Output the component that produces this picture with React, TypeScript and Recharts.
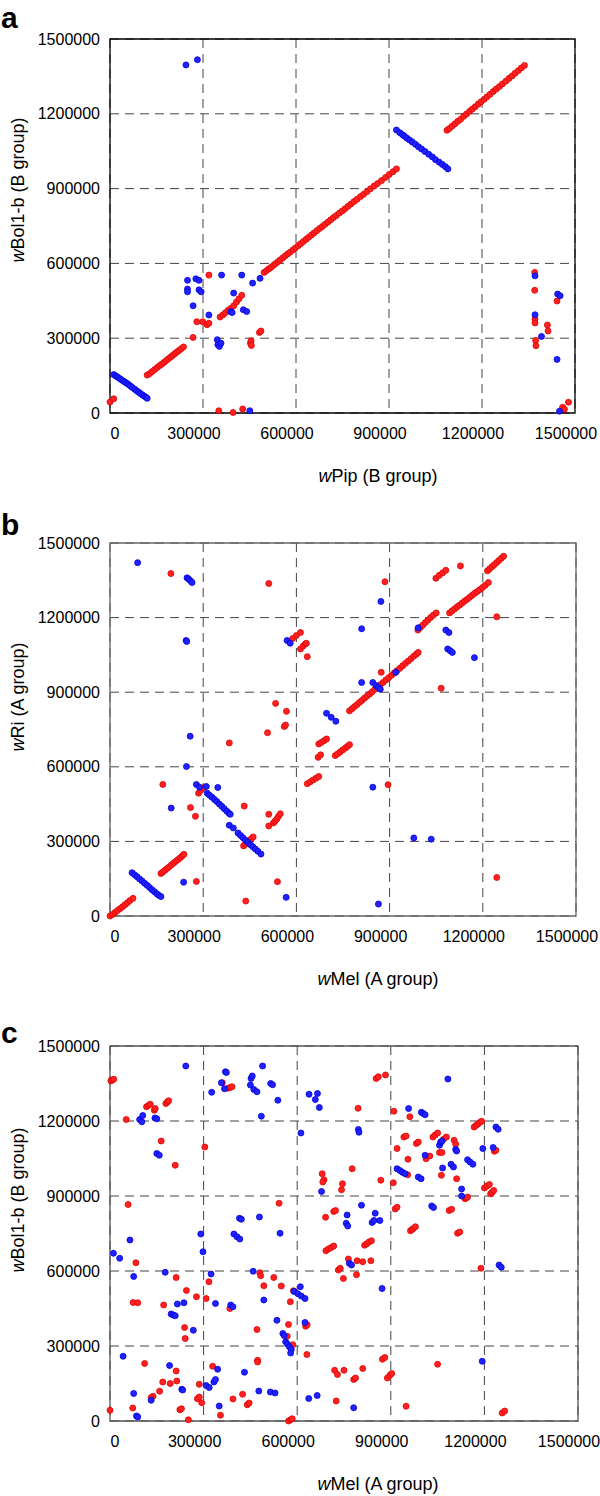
import React from "react";
import { ScatterChart, Scatter, XAxis, YAxis, CartesianGrid, ReferenceArea } from "recharts";

// genome positions in kb
const axisTicks = [0, 300000, 600000, 900000, 1200000, 1500000];

const aRed: [number, number][] = [
  [0, 44], [12, 57],
  [120, 152], [128, 158], [136, 166], [144, 174], [152, 182], [160, 190], [167, 196], [174, 203], [181, 210], [188, 217],
  [195, 224], [202, 231], [209, 238], [216, 245], [223, 251], [230, 258], [237, 265],
  [268, 303], [280, 366], [299, 366], [313, 354], [319, 360], [319, 553],
  [355, 385], [364, 393], [372, 402], [381, 412], [390, 420], [399, 430], [408, 445], [416, 458], [425, 472],
  [351, 9], [397, 2], [428, 16],
  [453, 280], [455, 290], [456, 271], [482, 323], [487, 329],
  [497, 564], [505, 571], [512, 578], [519, 584], [527, 592], [534, 599], [542, 607], [549, 614], [557, 622], [565, 630],
  [573, 638], [581, 645], [590, 654], [598, 662], [607, 671], [615, 679], [624, 688], [633, 697], [641, 705], [650, 714],
  [658, 722], [667, 731], [676, 740], [685, 748], [694, 757], [703, 766], [712, 775], [721, 784], [730, 792], [740, 802],
  [749, 810], [758, 819], [768, 829], [777, 838], [787, 848], [797, 857], [808, 868], [818, 877], [829, 888], [840, 899],
  [852, 910], [863, 920], [876, 932], [889, 945], [901, 957], [913, 968], [924, 979],
  [1087, 1134], [1095, 1141], [1104, 1151], [1113, 1160], [1122, 1170], [1131, 1178], [1141, 1190], [1150, 1199],
  [1160, 1210], [1169, 1219], [1178, 1228], [1188, 1239], [1197, 1248], [1207, 1258], [1216, 1268], [1226, 1278],
  [1236, 1289], [1246, 1299], [1256, 1309], [1266, 1320], [1277, 1331], [1287, 1342], [1297, 1352], [1307, 1363],
  [1317, 1373], [1327, 1384], [1337, 1394],
  [1370, 564], [1370, 492], [1371, 377], [1371, 361], [1373, 291], [1374, 270], [1411, 353], [1413, 329],
  [1442, 449], [1460, 23], [1466, 15], [1479, 43],
];

const aBlue: [number, number][] = [
  [245, 1396], [282, 1417],
  [12, 154], [18, 149], [24, 144], [30, 139], [36, 134], [42, 129], [48, 124], [54, 119], [60, 114], [66, 108],
  [72, 102], [80, 95], [86, 89], [92, 84], [98, 78], [104, 73], [110, 68], [116, 63], [120, 59],
  [924, 1135], [935, 1124], [944, 1116], [950, 1110], [958, 1102], [966, 1095], [975, 1087], [985, 1078], [995, 1068],
  [1005, 1059], [1016, 1049], [1028, 1038], [1040, 1027], [1050, 1016], [1062, 1006], [1072, 997], [1082, 988], [1090, 979],
  [250, 532], [250, 497], [250, 486], [268, 430], [277, 538], [287, 532], [287, 494], [294, 486], [319, 393],
  [346, 294], [348, 274], [353, 267], [358, 280], [360, 553], [399, 481], [390, 406], [394, 403], [425, 553],
  [430, 414], [441, 407], [460, 521], [484, 540], [451, 9],
  [1371, 550], [1371, 394], [1392, 307], [1444, 477], [1452, 470], [1442, 215], [1450, 7],
];

const bRed: [number, number][] = [
  [0, 0], [8, 6], [16, 14], [24, 22], [32, 29], [40, 37], [48, 45], [56, 53], [64, 62], [74, 71],
  [164, 171], [170, 177], [177, 184], [184, 191], [191, 198], [198, 206], [205, 213], [212, 220], [219, 227],
  [226, 234], [232, 241], [238, 248],
  [278, 139], [170, 529], [259, 436], [275, 401], [285, 494], [292, 505], [300, 516],
  [430, 282], [436, 289], [442, 296], [449, 304], [455, 311], [461, 318],
  [432, 442], [511, 409], [511, 362], [526, 374], [531, 381], [537, 390], [542, 400], [548, 411],
  [539, 138], [437, 60], [384, 696], [507, 737], [533, 855], [561, 762], [565, 768], [568, 823],
  [635, 532], [645, 540], [654, 547], [663, 554], [672, 561], [670, 638], [678, 648],
  [672, 692], [680, 698], [689, 705], [697, 712],
  [725, 645], [733, 652], [741, 660], [749, 668], [757, 675], [764, 682], [771, 689],
  [771, 825], [779, 833], [787, 842], [795, 850], [803, 859], [811, 867], [819, 876], [827, 884], [836, 893],
  [844, 902], [853, 912], [861, 921], [870, 930], [879, 939], [888, 949], [897, 958], [906, 968], [915, 977],
  [924, 987], [933, 996], [942, 1006], [951, 1016], [960, 1025], [969, 1035], [978, 1045], [986, 1053], [992, 1060],
  [873, 980], [895, 528], [885, 1344], [511, 1337], [196, 1377], [1066, 916],
  [588, 1116], [600, 1128], [613, 1140], [613, 1074], [622, 1086], [629, 1094], [632, 1097], [635, 1043],
  [991, 1150], [999, 1160], [1007, 1170], [1015, 1180], [1023, 1190], [1032, 1200], [1041, 1210], [1050, 1219],
  [1049, 1358], [1060, 1370], [1071, 1380], [1081, 1390], [1128, 1408],
  [1093, 1219], [1101, 1227], [1109, 1235], [1117, 1243], [1125, 1250], [1133, 1258], [1141, 1266], [1149, 1273],
  [1157, 1281], [1165, 1289], [1173, 1297], [1181, 1304], [1190, 1312], [1199, 1321], [1208, 1330], [1218, 1341],
  [1215, 1388], [1222, 1396], [1230, 1405], [1237, 1413], [1245, 1422], [1252, 1430], [1260, 1439], [1267, 1447],
  [1245, 1203], [1245, 155],
];

const bBlue: [number, number][] = [
  [89, 1421], [248, 1360], [253, 1355], [259, 1348], [264, 1341],
  [872, 1265], [810, 1155], [992, 1159], [245, 1108], [247, 1104], [570, 1108], [580, 1097],
  [1081, 1150], [1091, 1140], [1087, 1074], [1095, 1067], [1102, 1060], [1173, 1039],
  [920, 980], [810, 939], [846, 939], [856, 927], [863, 919], [870, 912],
  [697, 815], [712, 799], [727, 783],
  [846, 518], [978, 314], [1034, 309], [864, 48], [567, 75],
  [71, 174], [79, 166], [87, 158], [95, 149], [103, 141], [111, 132], [119, 124], [127, 115], [135, 106],
  [143, 98], [151, 89], [157, 83], [164, 78],
  [237, 136], [197, 434], [258, 723], [246, 601], [278, 529], [288, 518], [310, 521], [347, 517],
  [313, 494], [320, 486], [328, 478], [336, 469], [344, 460], [352, 450], [360, 441], [368, 431], [376, 421],
  [383, 413], [387, 409], [384, 365], [397, 354],
  [412, 334], [420, 324], [428, 315], [436, 305], [444, 296], [452, 287], [460, 278], [468, 269], [476, 260], [486, 249],
];

const cRed: [number, number][] = [
  [3, 1361], [7, 1364], [12, 1367], [52, 1206], [117, 1257], [123, 1262], [129, 1267], [142, 1243], [145, 1250],
  [179, 1270], [184, 1276], [188, 1281], [164, 1120], [209, 1023], [304, 1096], [360, 1353], [378, 1331], [385, 1334],
  [391, 1337], [795, 1251], [853, 1370], [860, 1377], [883, 1384], [910, 1239], [961, 1217],
  [1167, 1176], [1173, 1182], [1179, 1188], [1185, 1194], [1191, 1199], [920, 1090], [942, 1136], [949, 1140],
  [955, 1047], [982, 1110], [988, 1116], [1035, 1136], [1042, 1144], [1050, 1152], [1060, 1114], [1069, 1127],
  [1078, 1136], [1103, 1123], [1108, 1107], [1013, 1049], [1025, 1060], [1056, 1074], [1064, 1074], [954, 985],
  [1062, 983], [1111, 969], [1232, 1079], [1237, 1083], [1138, 889], [1142, 892], [1146, 896], [1200, 932],
  [1208, 940], [1216, 946], [1220, 909], [1225, 915], [1230, 922], [680, 989], [686, 965], [682, 956], [745, 949],
  [742, 925], [776, 1009], [868, 963], [908, 953],
  [58, 866], [83, 633], [74, 474], [89, 473], [212, 574], [172, 464], [245, 522], [277, 497], [308, 490], [317, 557],
  [239, 374], [241, 330], [111, 230], [212, 200], [169, 156], [193, 150], [214, 160], [159, 119], [138, 99], [329, 219],
  [286, 147], [280, 89], [286, 96], [384, 450], [480, 593], [483, 581], [493, 541], [542, 871], [525, 574], [549, 540],
  [588, 521], [578, 477], [572, 386], [568, 339], [586, 305], [627, 379], [632, 385], [631, 266], [471, 366],
  [425, 107], [394, 88], [473, 243], [473, 236],
  [691, 815], [717, 838], [723, 842], [692, 681], [700, 688], [709, 694], [717, 700], [732, 604], [738, 611],
  [764, 648], [792, 641], [810, 637], [836, 641], [748, 570], [790, 585], [816, 703], [823, 709], [830, 716],
  [838, 721], [725, 80], [720, 203], [729, 186], [750, 203], [781, 166], [787, 172], [810, 210], [873, 247],
  [881, 254], [889, 172], [897, 183], [903, 190], [914, 848], [920, 855], [963, 761], [968, 766], [972, 770],
  [979, 777], [1050, 227], [1087, 842], [1095, 847], [1114, 751], [1121, 756], [1189, 611],
  [0, 43], [73, 52], [132, 94], [224, 45], [229, 49], [251, 5], [294, 73], [354, 23], [440, 65], [446, 72],
  [572, 0], [579, 5], [584, 9], [949, 59], [1257, 32], [1265, 40],
];

const cBlue: [number, number][] = [
  [243, 1420], [95, 1206], [102, 1197], [105, 1222], [144, 1212], [150, 1209], [150, 1070], [158, 1063], [326, 1315],
  [370, 1397], [373, 1394], [357, 1353], [367, 1329], [452, 1370], [456, 1380], [489, 1420], [450, 1344], [461, 1326],
  [471, 1317], [515, 1350], [521, 1345], [538, 1283], [485, 1219], [638, 1307], [658, 1286], [665, 1310], [671, 1254],
  [612, 1152], [796, 1166], [798, 1155], [957, 1250], [998, 1235], [1004, 1230], [1010, 1225], [1083, 1368],
  [1237, 1176], [1244, 1167], [1056, 1103], [1060, 1116], [1064, 1120], [1108, 1086], [1111, 1080], [1010, 1063],
  [1066, 1012], [1093, 1027], [1101, 1016], [920, 1009], [929, 1002], [937, 995], [946, 989], [988, 976], [997, 969],
  [1146, 1045], [1154, 1036], [1163, 1027], [1195, 1090], [1228, 1094], [1127, 928], [1127, 900], [678, 918],
  [11, 671], [31, 651], [64, 724], [76, 578], [177, 595], [196, 428], [202, 424], [209, 421], [216, 468], [237, 473],
  [324, 588], [291, 748], [298, 677], [267, 363], [338, 470], [42, 259], [191, 222], [76, 110], [230, 127], [233, 124],
  [345, 207], [308, 142], [318, 134], [333, 156], [338, 166], [387, 464], [394, 457], [397, 748], [407, 737],
  [416, 728], [415, 811], [421, 807], [459, 599], [493, 484], [479, 816], [545, 751], [590, 518], [602, 509],
  [613, 500], [625, 490], [610, 537], [535, 403], [554, 350], [558, 342], [563, 317], [569, 307], [575, 297],
  [581, 286], [579, 272], [625, 394], [431, 195], [477, 120], [514, 116], [529, 112], [637, 90], [664, 102],
  [760, 824], [757, 791], [762, 780], [806, 863], [767, 631], [774, 624], [840, 794], [846, 802], [850, 831],
  [865, 802], [872, 530], [1031, 860], [1037, 854], [1193, 239], [1247, 624], [1254, 615],
  [85, 20], [89, 16], [132, 83], [350, 60], [781, 53],
];

const FONT = '"Liberation Sans", Arial, Helvetica, sans-serif';

const toPts = (arr: [number, number][]) => arr.map(([x, y]) => ({ x: x * 1000, y: y * 1000 }));

const redDot = (p: any) => <circle cx={p.cx} cy={p.cy} r={3} fill="#ff2222" stroke="#e00000" strokeWidth={0.8} />;
const blueDot = (p: any) => <circle cx={p.cx} cy={p.cy} r={3} fill="#2222ff" stroke="#0000dd" strokeWidth={0.8} />;

// gnuplot puts the x labels a little off the grid lines
const XTick = (props: any) => {
  const { x, y, payload } = props;
  const shift = payload.value === 0 ? 5 : -9;
  return (
    <text x={x + shift} y={y} dy="0.71em" textAnchor="middle" fontSize={16} fontFamily={FONT} fill="#000">
      {payload.value}
    </text>
  );
};

interface PanelProps {
  top: number;
  boxTop: number;
  boxBottom: number;
  right: number;
  border: string;
  red: [number, number][];
  blue: [number, number][];
}

function Panel({ top, boxTop, boxBottom, right, border, red, blue }: PanelProps) {
  const mTop = boxTop - top;
  const h = boxBottom - boxTop;
  return (
    <div style={{ position: "absolute", left: 0, top }}>
      <ScatterChart
        width={600}
        height={mTop + h + 50}
        margin={{ top: mTop, right: 600 - right, left: 10, bottom: 0 }}
      >
        <CartesianGrid stroke="#444" strokeDasharray="9 6" strokeWidth={1} />
        <XAxis
          type="number"
          dataKey="x"
          domain={[0, 1500000]}
          ticks={axisTicks}
          interval={0}
          tickLine={false}
          axisLine={false}
          tickSize={0}
          tickMargin={15}
          height={50}
          tick={XTick}
        />
        <YAxis
          type="number"
          dataKey="y"
          domain={[0, 1500000]}
          ticks={axisTicks}
          interval={0}
          tickLine={false}
          axisLine={false}
          tickSize={0}
          tickMargin={10}
          width={100}
          tick={{ fontSize: 16, fill: "#000", fontFamily: FONT }}
        />
        <ReferenceArea x1={0} x2={1500000} y1={0} y2={1500000} fill="none" fillOpacity={0} stroke={border} strokeWidth={1.3} />
        <Scatter data={toPts(red)} isAnimationActive={false} shape={redDot} />
        <Scatter data={toPts(blue)} isAnimationActive={false} shape={blueDot} />
      </ScatterChart>
    </div>
  );
}

function YTitle({ y, rest }: { y: number; rest: string }) {
  return (
    <text transform={`translate(24, ${y}) rotate(-90)`} textAnchor="middle" fontSize={18} fontFamily={FONT} fill="#000">
      <tspan fontStyle="italic">w</tspan>
      <tspan>{rest}</tspan>
    </text>
  );
}

function XTitle({ y, rest }: { y: number; rest: string }) {
  return (
    <text x={378} y={y} textAnchor="middle" fontSize={18} fontFamily={FONT} fill="#000">
      <tspan fontStyle="italic">w</tspan>
      <tspan>{rest}</tspan>
    </text>
  );
}

export default function App() {
  return (
    <div style={{ position: "absolute", left: 0, top: 0, width: 600, height: 1496, background: "#fff", overflow: "hidden" }}>
      <Panel top={0} boxTop={39} boxBottom={413} right={575} border="#000" red={aRed} blue={aBlue} />
      <Panel top={500} boxTop={543} boxBottom={916} right={576} border="#666" red={bRed} blue={bBlue} />
      <Panel top={1000} boxTop={1046} boxBottom={1421} right={578} border="#555" red={cRed} blue={cBlue} />
      <svg width={600} height={1496} style={{ position: "absolute", left: 0, top: 0, pointerEvents: "none" }}>
        <text x={1} y={28} fontSize={30} fontWeight="bold" fontFamily={FONT}>a</text>
        <text x={1} y={535} fontSize={30} fontWeight="bold" fontFamily={FONT}>b</text>
        <text x={1} y={1043} fontSize={30} fontWeight="bold" fontFamily={FONT}>c</text>
        <YTitle y={190} rest="Bol1-b (B group)" />
        <XTitle y={482} rest="Pip (B group)" />
        <YTitle y={697} rest="Ri (A group)" />
        <XTitle y={985} rest="Mel (A group)" />
        <YTitle y={1200} rest="Bol1-b (B group)" />
        <XTitle y={1490} rest="Mel (A group)" />
      </svg>
    </div>
  );
}
